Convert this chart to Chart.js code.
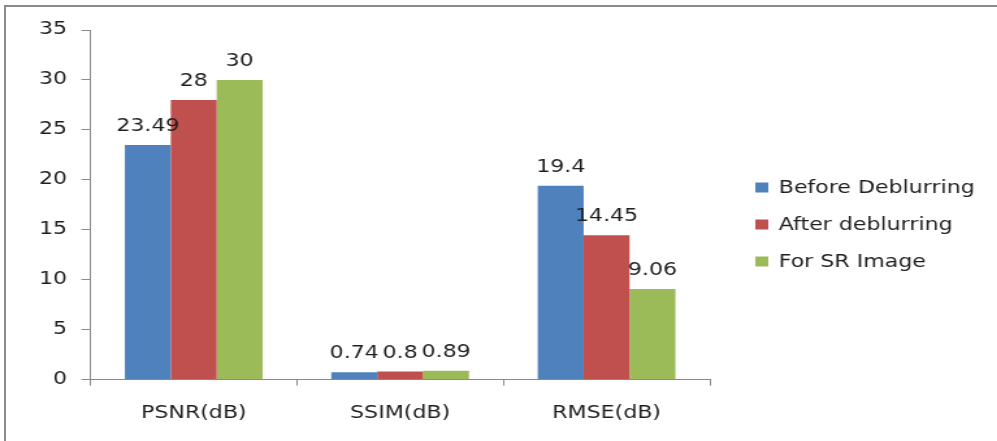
<!DOCTYPE html>
<html>
<head>
<meta charset="utf-8">
<script src="https://cdn.jsdelivr.net/npm/chart.js@4.4.1/dist/chart.umd.min.js"></script>
<style>
  html, body { margin: 0; padding: 0; background: #fff; overflow: hidden; width: 997px; height: 441px; }
  #frame { position: absolute; left: 4px; top: 5px; width: 1000px; height: 450px; border: 2px solid #8a8a8a; box-sizing: border-box; }
  #c { position: absolute; left: 0; top: 0; width: 767px; height: 443px; transform: scaleX(1.3); transform-origin: 0 0; }
</style>
</head>
<body>
<div id="frame"></div>
<canvas id="c" width="767" height="443"></canvas>
<script>
// Image quality metrics for the three processing stages
const categories = ['PSNR(dB)', 'SSIM(dB)', 'RMSE(dB)'];
const seriesNames = ['Before Deblurring', 'After deblurring', 'For SR Image'];
const beforeDeblurring = [23.49, 0.74, 19.4];
const afterDeblurring = [28, 0.8, 14.45];
const forSRImage = [30, 0.89, 9.06];
const yTicks = [0, 5, 10, 15, 20, 25, 30, 35];

const colors = ['#4F81BD', '#C0504D', '#9BBB59'];
const FONT = '"DejaVu Sans", Verdana, sans-serif';
const FS = 17;
const TEXT = '#1e1e1e';
const AXIS = '#8a8a8a';

// Value printed above each bar
const valueLabels = {
  id: 'valueLabels',
  afterDatasetsDraw(chart) {
    const ctx = chart.ctx;
    ctx.save();
    ctx.font = FS + 'px ' + FONT;
    ctx.fillStyle = TEXT;
    ctx.textAlign = 'center';
    ctx.textBaseline = 'alphabetic';
    chart.data.datasets.forEach((ds, i) => {
      chart.getDatasetMeta(i).data.forEach((bar, j) => {
        ctx.fillText(String(ds.data[j]), bar.x, bar.y - 14);
      });
    });
    ctx.restore();
  }
};

// Legend stacked to the right of the plot
const sideLegend = {
  id: 'sideLegend',
  afterDraw(chart) {
    const ctx = chart.ctx;
    const ds = chart.data.datasets;
    const gap = 37;
    const x = chart.chartArea.right + 35;
    const y0 = 441 / 2 + 4 - gap * (ds.length - 1) / 2;
    ctx.save();
    ctx.font = FS + 'px ' + FONT;
    ctx.textBaseline = 'middle';
    ctx.textAlign = 'left';
    ds.forEach((d, i) => {
      const y = y0 + i * gap;
      ctx.fillStyle = d.backgroundColor;
      ctx.fillRect(x, y - 5, 10, 10);
      ctx.fillStyle = TEXT;
      ctx.fillText(d.label, x + 18, y + 1);
    });
    ctx.restore();
  }
};

new Chart(document.getElementById('c'), {
  type: 'bar',
  data: {
    labels: categories,
    datasets: [
      { label: seriesNames[0], data: beforeDeblurring, backgroundColor: colors[0] },
      { label: seriesNames[1], data: afterDeblurring, backgroundColor: colors[1] },
      { label: seriesNames[2], data: forSRImage, backgroundColor: colors[2] }
    ]
  },
  options: {
    responsive: false,
    animation: false,
    devicePixelRatio: 1,
    layout: { padding: { left: 19, right: 221, top: 30, bottom: 1 } },
    datasets: { bar: { categoryPercentage: 0.667, barPercentage: 1.0, borderWidth: 0 } },
    plugins: { legend: { display: false }, tooltip: { enabled: false } },
    scales: {
      x: {
        grid: { offset: true, drawOnChartArea: false, tickLength: 6, color: AXIS },
        border: { color: AXIS, width: 1 },
        ticks: { font: { family: FONT, size: FS }, color: TEXT, padding: 18 }
      },
      y: {
        min: 0, max: 35,
        afterBuildTicks(scale) { scale.ticks = yTicks.map(v => ({ value: v })); },
        grid: { drawOnChartArea: false, tickLength: 7, color: AXIS },
        border: { color: AXIS, width: 1 },
        ticks: { font: { family: FONT, size: FS }, color: TEXT, padding: 11 }
      }
    }
  },
  plugins: [valueLabels, sideLegend]
});
</script>
</body>
</html>
